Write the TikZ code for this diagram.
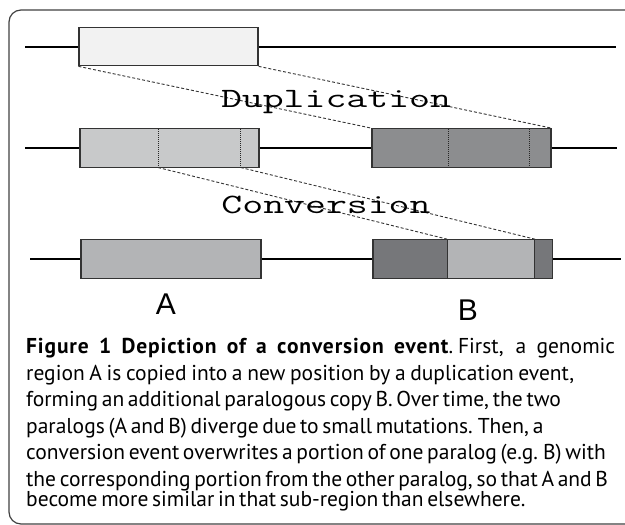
\documentclass[tikz,border=0pt]{standalone}
\usepackage{fontspec}
\setsansfont{PT Sans}
\newfontfamily\letterfont{Liberation Sans}
\usetikzlibrary{positioning}

\definecolor{origgray}{HTML}{F2F2F2}
\definecolor{paragray}{HTML}{C8C9CA}
\definecolor{copygray}{HTML}{8C8D8F}
\definecolor{convgray}{HTML}{B3B4B6}
\definecolor{darkgray}{HTML}{76777A}

% caption line stretched to a given width
\newcommand{\capline}[2]{\makebox[#1pt][s]{\spaceskip=0.22em plus 1em minus 0.05em\relax #2}}

\tikzset{
  seg/.style={rectangle,draw=black!80,line width=1.2pt,minimum height=38.5pt,inner sep=0pt},
  chrom/.style={line width=2pt},
  link/.style={line width=0.9pt,black!80,dash pattern=on 3pt off 2pt},
  breakpt/.style={line width=0.9pt,black!85,dash pattern=on 1pt off 1pt},
  eventlabel/.style={anchor=base,inner sep=0pt,font=\fontsize{28}{28}\selectfont\ttfamily},
  paralog/.style={anchor=base,inner sep=0pt,font=\letterfont\fontsize{30}{30}\selectfont}
}

\begin{document}
\begin{tikzpicture}[x=1pt,y=-1pt]
    \useasboundingbox (0,0) rectangle (625,525);

    % Frame
    \draw[line width=1.2pt,black!75,rounded corners=12pt] (660,10) -- (9,10) -- (9,524) -- (660,524);

    % First chromosome with the original region
    \coordinate (r1l) at (25,46.5);
    \coordinate (r1r) at (616,46.5);
    \node[seg,fill=origgray,minimum width=179pt] (orig) at (168.5,46.5) {};
    \draw[chrom] (r1l) -- (orig);
    \draw[chrom] (orig) -- (r1r);

    % After duplication
    \coordinate (r2l) at (25,148);
    \coordinate (r2r) at (617,148);
    \node[seg,fill=paragray,minimum width=179pt] (paraA) at (169.5,148) {};
    \node[seg,fill=copygray,minimum width=179pt] (paraB) at (461.5,148) {};
    \draw[chrom] (r2l) -- (paraA);
    \draw[chrom] (paraA) -- (paraB);
    \draw[chrom] (paraB) -- (r2r);

    % Breakpoints of the converted stretch
    \coordinate (cutA1) at (158,167.5);
    \coordinate (cutA2) at (240.7,167.5);
    \draw[breakpt] (158,129) -- (cutA1);
    \draw[breakpt] (240.7,129) -- (cutA2);
    \draw[breakpt] (448,129) -- (448,167);
    \draw[breakpt] (529,129) -- (529,167);

    % After conversion
    \coordinate (r3l) at (30,259);
    \coordinate (r3r) at (621,259);
    \node[seg,fill=convgray,minimum width=180pt] (finalA) at (171,259) {};
    \node[seg,fill=darkgray,minimum width=179.5pt] (finalB) at (462.75,259) {};
    \node[seg,fill=convgray,minimum width=86.6pt] (conv) at (491,259) {};
    \draw[chrom] (r3l) -- (finalA);
    \draw[chrom] (finalA) -- (finalB);
    \draw[chrom] (finalB) -- (r3r);

    % Dashed links
    \draw[link] (orig.south west) -- (paraB.north west);
    \draw[link] (orig.south east) -- (paraB.north east);
    \draw[link] (cutA1) -- (conv.north west);
    \draw[link] (cutA2) -- (conv.north east);

    % Labels
    \node[eventlabel] (duptext) at (336,107) {\scalebox{1.45}[1]{Duplication}};
    \node[eventlabel] (convtext) at (326,213) {\scalebox{1.45}[1]{Conversion}};
    \node[paralog] (labA) at (166,314) {A};
    \node[paralog] (labB) at (468,320) {B};

    % Caption
    \node[anchor=north west,inner sep=0pt,text width=595pt,align=left,font=\sffamily] (caption) at (26,338)
      {\fontsize{21.5}{26.5}\selectfont
       \capline{589}{{\bfseries\addfontfeatures{LetterSpace=4}Figure 1 Depiction of a conversion event}. First, a genomic}\\
       \capline{548}{region A is copied into a new position by a duplication event,}\\
       \capline{526}{forming an additional paralogous copy B. Over time, the two}\\
       \capline{509}{paralogs (A and B) diverge due to small mutations. Then, a}\\
       \capline{569}{conversion event overwrites a portion of one paralog (e.g. B) with}\\
       \capline{579}{the corresponding portion from the other paralog, so that A and B}\\
       \capline{486}{become more similar in that sub-region than elsewhere.}};
\end{tikzpicture}
\end{document}
